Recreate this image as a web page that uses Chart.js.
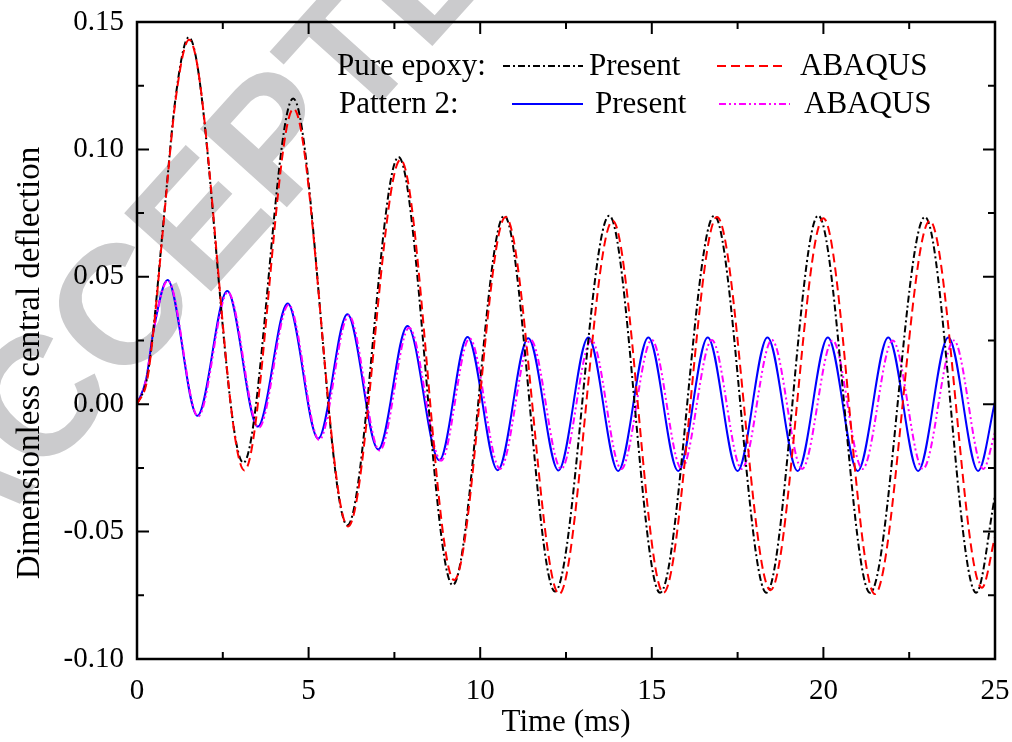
<!DOCTYPE html>
<html><head><meta charset="utf-8">
<script src="https://cdn.jsdelivr.net/npm/chart.js@4.4.0/dist/chart.umd.min.js"></script>
<style>html,body{margin:0;padding:0;background:#fff;} canvas{display:block;}</style>
</head><body>
<canvas id="c" width="1012" height="742"></canvas>
<script>
// ---- data ----
const epoxyPresentT = [0, 0.29, 0.49, 0.76, 1.15, 1.51, 3.10, 4.55, 6.13, 7.62, 9.20, 10.70, 12.18, 13.76, 15.24, 16.82, 18.34, 19.85, 21.36, 22.96, 24.45, 25];
const epoxyPresentV = [0, 0.010, 0.031, 0.070, 0.123, 0.144, -0.023, 0.120, -0.0475, 0.097, -0.071, 0.074, -0.0735, 0.074, -0.074, 0.074, -0.074, 0.074, -0.074, 0.0735, -0.074, -0.036];

const epoxyAbaqusT = [0, 0.29, 0.49, 0.76, 1.15, 1.52, 3.13, 4.56, 6.15, 7.68, 9.24, 10.74, 12.30, 13.86, 15.34, 16.90, 18.46, 20.00, 21.50, 23.10, 24.62, 25];
const epoxyAbaqusV = [0, 0.009, 0.030, 0.069, 0.122, 0.143, -0.026, 0.116, -0.048, 0.096, -0.069, 0.0735, -0.0745, 0.072, -0.074, 0.0735, -0.073, 0.073, -0.0745, 0.072, -0.072, -0.052];

const pattern2PresentT = [0, 0.27, 0.47, 0.89, 1.76, 2.63, 3.52, 4.39, 5.28, 6.13, 7.03, 7.88, 8.81, 9.63, 10.51, 11.40, 12.28, 13.15, 14.02, 14.90, 15.77, 16.63, 17.50, 18.37, 19.25, 20.13, 21.00, 21.89, 22.76, 23.64, 24.51, 25];
const pattern2PresentV = [0, 0.010, 0.028, 0.0487, -0.0045, 0.0444, -0.0088, 0.0395, -0.0135, 0.0353, -0.0178, 0.0307, -0.022, 0.0264, -0.0259, 0.0259, -0.026, 0.0262, -0.0262, 0.0262, -0.0262, 0.0262, -0.0262, 0.0262, -0.0262, 0.0262, -0.0262, 0.0262, -0.0262, 0.0262, -0.0262, 0.001];

const pattern2AbaqusT = [0, 0.27, 0.47, 0.90, 1.78, 2.65, 3.55, 4.42, 5.31, 6.17, 7.07, 7.93, 8.86, 9.69, 10.58, 11.47, 12.36, 13.24, 14.11, 15.00, 15.87, 16.75, 17.62, 18.50, 19.38, 20.27, 21.14, 22.02, 22.90, 23.80, 24.66, 25];
const pattern2AbaqusV = [0, 0.010, 0.028, 0.0485, -0.0048, 0.0440, -0.0092, 0.0390, -0.0140, 0.0348, -0.0182, 0.0300, -0.0222, 0.0258, -0.0254, 0.0252, -0.0254, 0.0252, -0.0254, 0.0252, -0.0254, 0.0252, -0.0254, 0.0252, -0.0254, 0.0250, -0.0254, 0.0250, -0.0254, 0.0250, -0.0254, -0.011];

const xTickValues = [0, 5, 10, 15, 20, 25];
const xTickLabels = ['0', '5', '10', '15', '20', '25'];
const yTickValues = [-0.10, -0.05, 0.00, 0.05, 0.10, 0.15];
const yTickLabels = ['-0.10', '-0.05', '0.00', '0.05', '0.10', '0.15'];
const groupNames = ['Pure epoxy:', 'Pattern 2:'];
const methodNames = ['Present', 'ABAQUS'];
const xTitle = 'Time (ms)';
const yTitle = 'Dimensionless central deflection';
const watermarkText = 'ACCEPTED';

// ---- styles ----
const FONT = '"Liberation Serif", "Times New Roman", serif';
const styles = [
  {color: '#000000', dash: [7, 3, 2, 3]},
  {color: '#ff0000', dash: [9, 5]},
  {color: '#0000ff', dash: []},
  {color: '#ff00ff', dash: [7, 3, 2, 3, 2, 3]}
];

function pts(t, v) { return t.map((x, i) => ({x: x, y: v[i]})); }

function ds(label, t, v, st, order) {
  return {
    label: label, data: pts(t, v), borderColor: st.color, borderDash: st.dash,
    borderWidth: 2, pointRadius: 0, fill: false, cubicInterpolationMode: 'monotone', order: order
  };
}

const framePlugin = {
  id: 'framePlugin',
  beforeDraw(chart) {
    const ctx = chart.ctx;
    ctx.save();
    ctx.translate(235, 195);
    ctx.rotate(-48 * Math.PI / 180);
    ctx.font = 'bold 170px "Liberation Sans", Arial, sans-serif';
    ctx.fillStyle = '#cbcbcd';
    ctx.textAlign = 'center';
    ctx.textBaseline = 'middle';
    ctx.fillText(watermarkText, 0, 0);
    ctx.restore();
  },
  afterDatasetsDraw(chart) {
    const ctx = chart.ctx;
    const a = chart.chartArea;
    const xs = chart.scales.x, ys = chart.scales.y;
    ctx.save();
    ctx.strokeStyle = '#000';
    ctx.lineWidth = 2.5;
    ctx.setLineDash([]);
    ctx.strokeRect(a.left, a.top, a.right - a.left, a.bottom - a.top);
    ctx.lineWidth = 2;
    const major = 12, minor = 7;
    for (let i = 0; i < xTickValues.length; i++) {
      const px = xs.getPixelForValue(xTickValues[i]);
      ctx.beginPath();
      ctx.moveTo(px, a.bottom); ctx.lineTo(px, a.bottom - major);
      ctx.moveTo(px, a.top); ctx.lineTo(px, a.top + major);
      ctx.stroke();
      if (i < xTickValues.length - 1) {
        const mx = xs.getPixelForValue((xTickValues[i] + xTickValues[i + 1]) / 2);
        ctx.beginPath();
        ctx.moveTo(mx, a.bottom); ctx.lineTo(mx, a.bottom - minor);
        ctx.moveTo(mx, a.top); ctx.lineTo(mx, a.top + minor);
        ctx.stroke();
      }
    }
    for (let i = 0; i < yTickValues.length; i++) {
      const py = ys.getPixelForValue(yTickValues[i]);
      ctx.beginPath();
      ctx.moveTo(a.left, py); ctx.lineTo(a.left + major, py);
      ctx.moveTo(a.right, py); ctx.lineTo(a.right - major, py);
      ctx.stroke();
      if (i < yTickValues.length - 1) {
        const my = ys.getPixelForValue((yTickValues[i] + yTickValues[i + 1]) / 2);
        ctx.beginPath();
        ctx.moveTo(a.left, my); ctx.lineTo(a.left + minor, my);
        ctx.moveTo(a.right, my); ctx.lineTo(a.right - minor, my);
        ctx.stroke();
      }
    }
    ctx.restore();
  },
  afterDraw(chart) {
    const ctx = chart.ctx;
    ctx.save();
    // y axis title
    ctx.font = '33px ' + FONT;
    ctx.fillStyle = '#000';
    ctx.textAlign = 'center';
    ctx.textBaseline = 'middle';
    ctx.translate(30, 363);
    ctx.rotate(-Math.PI / 2);
    ctx.fillText(yTitle, 0, 0);
    ctx.restore();

    ctx.save();
    ctx.font = '31px ' + FONT;
    ctx.fillStyle = '#000';
    ctx.textBaseline = 'middle';
    ctx.textAlign = 'left';
    const rows = [
      {y: 67, label: groupNames[0], lx: 337, s1: styles[0], a: [503, 583], t1: 589, s2: styles[1], b: [717, 786], t2: 800},
      {y: 105, label: groupNames[1], lx: 339, s1: styles[2], a: [512, 583], t1: 595, s2: styles[3], b: [719, 790], t2: 804}
    ];
    rows.forEach(r => {
      ctx.fillText(r.label, r.lx, r.y);
      ctx.fillText(methodNames[0], r.t1, r.y);
      ctx.fillText(methodNames[1], r.t2, r.y);
      [[r.s1, r.a], [r.s2, r.b]].forEach(([s, seg]) => {
        ctx.beginPath();
        ctx.strokeStyle = s.color;
        ctx.lineWidth = 2;
        ctx.setLineDash(s.dash);
        ctx.moveTo(seg[0], r.y - 1); ctx.lineTo(seg[1], r.y - 1);
        ctx.stroke();
      });
    });
    ctx.restore();
  }
};

new Chart(document.getElementById('c'), {
  type: 'line',
  data: {
    datasets: [
      ds('Pure epoxy: Present', epoxyPresentT, epoxyPresentV, styles[0], 2),
      ds('Pure epoxy: ABAQUS', epoxyAbaqusT, epoxyAbaqusV, styles[1], 1),
      ds('Pattern 2: Present', pattern2PresentT, pattern2PresentV, styles[2], 4),
      ds('Pattern 2: ABAQUS', pattern2AbaqusT, pattern2AbaqusV, styles[3], 3)
    ]
  },
  options: {
    responsive: false,
    animation: false,
    devicePixelRatio: 1,
    layout: {padding: {left: 0, right: 17, top: 22, bottom: 0}},
    plugins: {legend: {display: false}, tooltip: {enabled: false}},
    scales: {
      x: {
        type: 'linear', min: 0, max: 25,
        afterBuildTicks: s => { s.ticks = xTickValues.map(v => ({value: v})); },
        afterFit: s => { s.height = 83; s.paddingLeft = 0; s.paddingRight = 0; },
        grid: {display: false, drawTicks: false},
        border: {display: false},
        ticks: {color: '#000', font: {family: FONT, size: 29}, padding: 15, maxRotation: 0,
                callback: (v, i) => xTickLabels[i]},
        title: {display: true, text: xTitle, color: '#000', font: {family: FONT, size: 31, lineHeight: 1.2}, padding: {top: 0, bottom: 1}}
      },
      y: {
        type: 'linear', min: -0.10, max: 0.15,
        afterBuildTicks: s => { s.ticks = yTickValues.map(v => ({value: v})); },
        afterFit: s => { s.width = 137; s.paddingTop = 0; s.paddingBottom = 0; },
        grid: {display: false, drawTicks: false},
        border: {display: false},
        ticks: {color: '#000', font: {family: FONT, size: 29}, padding: 13,
                callback: (v, i) => yTickLabels[i]},
        title: {display: false}
      }
    }
  },
  plugins: [framePlugin]
});
</script>
</body></html>
